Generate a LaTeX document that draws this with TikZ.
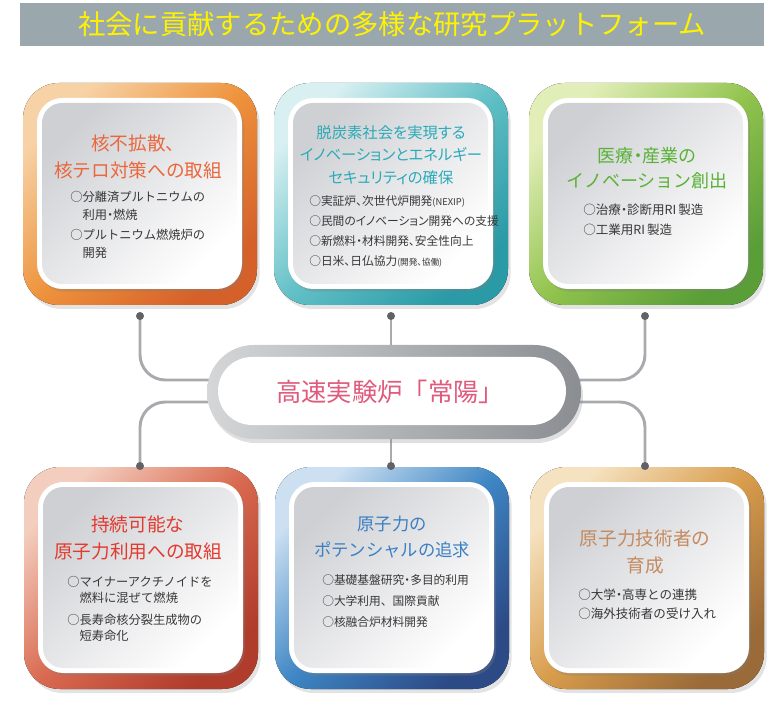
\documentclass[tikz,border=0pt]{standalone}
\usepackage{fontspec}
\setmainfont{Noto Sans CJK JP}
\newfontfamily\jpp[RawFeature=+palt]{Noto Sans CJK JP}
\newcommand\nakaguro{{\jpp ・}}
\usetikzlibrary{calc,shadows}
\pgfdeclarelayer{background}
\pgfsetlayers{background,main}

\definecolor{orL}{HTML}{F7D2A6}
\definecolor{orM}{HTML}{EE933C}
\definecolor{orD}{HTML}{D5602A}
\definecolor{orT}{HTML}{E9673C}
\definecolor{tqL}{HTML}{D8F0F2}
\definecolor{tqM}{HTML}{62C0C6}
\definecolor{tqD}{HTML}{2A9AA6}
\definecolor{tqT}{HTML}{2AAAB8}
\definecolor{grL}{HTML}{E2EEB8}
\definecolor{grM}{HTML}{92C44E}
\definecolor{grD}{HTML}{5A9E38}
\definecolor{grT}{HTML}{58B236}
\definecolor{rdL}{HTML}{F3CDBE}
\definecolor{rdM}{HTML}{D96A50}
\definecolor{rdD}{HTML}{B03C2C}
\definecolor{rdT}{HTML}{E23A2E}
\definecolor{blL}{HTML}{CCE0F2}
\definecolor{blM}{HTML}{3E86C4}
\definecolor{blD}{HTML}{2C4A86}
\definecolor{blT}{HTML}{3A80C2}
\definecolor{brL}{HTML}{F5E2C0}
\definecolor{brM}{HTML}{D89C4C}
\definecolor{brD}{HTML}{9A6A38}
\definecolor{brT}{HTML}{C48A60}
\definecolor{innerGray}{HTML}{CFD0D4}
\definecolor{itemGray}{HTML}{383838}
\definecolor{barGray}{HTML}{9AA8AE}
\definecolor{titleYellow}{HTML}{FFF200}
\definecolor{wireGray}{HTML}{A9AAAE}
\definecolor{dotGray}{HTML}{616166}
\definecolor{pillL}{HTML}{D4D6D8}
\definecolor{pillD}{HTML}{8A8E92}
\definecolor{joyoPink}{HTML}{E05A7C}

\def\panel(#1,#2)#3#4#5{
	\fill[drop shadow={shadow xshift=2pt,shadow yshift=-3pt,opacity=.22},rounded corners=27pt,top color=#3,bottom color=#5,middle color=#4,shading angle=45] (#1,#2) rectangle ++(234,222);
	\fill[white,rounded corners=19pt,drop shadow={shadow xshift=1.5pt,shadow yshift=-2pt,opacity=.3}] (#1+14,#2+15) rectangle ++(205,191);
	\shade[rounded corners=15pt,top color=innerGray,bottom color=white,shading angle=45] (#1+19,#2+20) rectangle ++(195,181);
}

\begin{document}
\begin{tikzpicture}[x=0.75pt,y=-0.75pt,
	head/.style={align=center,inner sep=0pt,font=\fontsize{14}{20}\selectfont},
	items/.style={align=left,inner sep=0pt,anchor=west,text=itemGray},
	dot/.style={circle,fill=dotGray,minimum size=6pt,inner sep=0pt},
	wire/.style={line width=2.2pt,draw=wireGray,rounded corners=19pt}]
	\useasboundingbox (0,0) rectangle (782,727);
	
	%TITLE
	\node[fill=barGray,minimum width=558pt,minimum height=32.25pt,inner sep=0pt,text=titleYellow,font=\fontsize{20.5}{24}\selectfont] (title) at (392,24.5) {社会に貢献するための多様な研究プラットフォーム};
	
	%PANELS
	\panel(23,83){orL}{orM}{orD}
	\panel(274,83){tqL}{tqM}{tqD}
	\panel(529,83){grL}{grM}{grD}
	\panel(24,467){rdL}{rdM}{rdD}
	\panel(275,467){blL}{blM}{blD}
	\panel(530,467){brL}{brM}{brD}
	
	%HEADINGS
	\node[head,text=orT] (kakufu) at (138,157) {核不拡散、\\核テロ対策への取組};
	\node[head,text=tqT,font=\jpp\fontsize{11.5}{17}\selectfont] (datsutan) at (391,155) {脱炭素社会を実現する\\イノベーションとエネルギー\\セキュリティの確保};
	\node[head,text=grT,font=\fontsize{13.5}{19}\selectfont] (iryo) at (647,168) {医療\nakaguro 産業の\\イノベーション創出};
	\node[head,text=rdT] (jizoku) at (138,538) {持続可能な\\原子力利用への取組};
	\node[head,text=blT,font=\fontsize{13}{20}\selectfont] (potential) at (392,537) {原子力の\\ポテンシャルの追求};
	\node[head,text=brT] (ikusei) at (645,552) {原子力技術者の\\育成};
	
	%ITEMS
	\node[items,font=\fontsize{9.2}{13.5}\selectfont] (kakufuList) at (70,225) {○分離済プルトニウムの\\\hspace*{1em}利用\nakaguro 燃焼\\[1.5pt]○プルトニウム燃焼炉の\\\hspace*{1em}開発};
	\node[items,font=\jpp\fontsize{8.8}{15}\selectfont] (datsutanList) at (309,231) {○実証炉、次世代炉開発{\fontsize{7}{15}\selectfont(NEXIP)}\\○民間のイノベーション開発への支援\\○新燃料・材料開発、安全性向上\\○日米、日仏協力{\fontsize{6.5}{15}\selectfont(開発、協働)}};
	\node[items,font=\fontsize{9.4}{15}\selectfont] (iryoList) at (583,220) {○治療\nakaguro 診断用RI\,製造\\○工業用RI\,製造};
	\node[items,font=\fontsize{9.2}{12}\selectfont] (jizokuList) at (67,608.5) {○マイナーアクチノイドを\\\hspace*{1em}燃料に混ぜて燃焼\\[4.5pt]○長寿命核分裂生成物の\\\hspace*{1em}短寿命化};
	\node[items,font=\fontsize{8.8}{15.7}\selectfont] (potentialList) at (322,601) {○基礎基盤研究\nakaguro 多目的利用\\○大学利用、国際貢献\\○核融合炉材料開発};
	\node[items,font=\fontsize{9.4}{14.3}\selectfont] (ikuseiList) at (578,604.5) {○大学\nakaguro 高専との連携\\○海外技術者の受け入れ};
	
	%CENTER
	\node[minimum width=280.5pt,minimum height=70.5pt,rounded corners=35pt,left color=pillL,right color=pillD,drop shadow={shadow xshift=1.5pt,shadow yshift=-3pt,opacity=.25}] (joyo) at (394,392) {};
	\fill[white,rounded corners=25.5pt] (218,357) rectangle (566,425);
	\node[text=joyoPink,font=\fontsize{19}{22}\selectfont,inner sep=0pt] (joyoLbl) at (390,392) {高速実験炉「常陽」};
	
	%WIRES
	\foreach \n/\x/\y in {d1/140/316,d2/391/316,d3/645/316,d4/140/466,d5/391/466,d6/645/466}
		\node[dot] (\n) at (\x,\y) {};
	\begin{pgfonlayer}{background}
		\draw[wire] (d1.center) |- ($(joyo.west)+(20,-12)$);
		\draw[wire] (d4.center) |- ($(joyo.west)+(20,10)$);
		\draw[wire] (d3.center) |- ($(joyo.east)+(-20,-12)$);
		\draw[wire] (d6.center) |- ($(joyo.east)+(-20,10)$);
		\draw[wire] (d2.center) -- (d2 |- joyo.center);
		\draw[wire] (d5.center) -- (d5 |- joyo.center);
	\end{pgfonlayer}
\end{tikzpicture}
\end{document}
